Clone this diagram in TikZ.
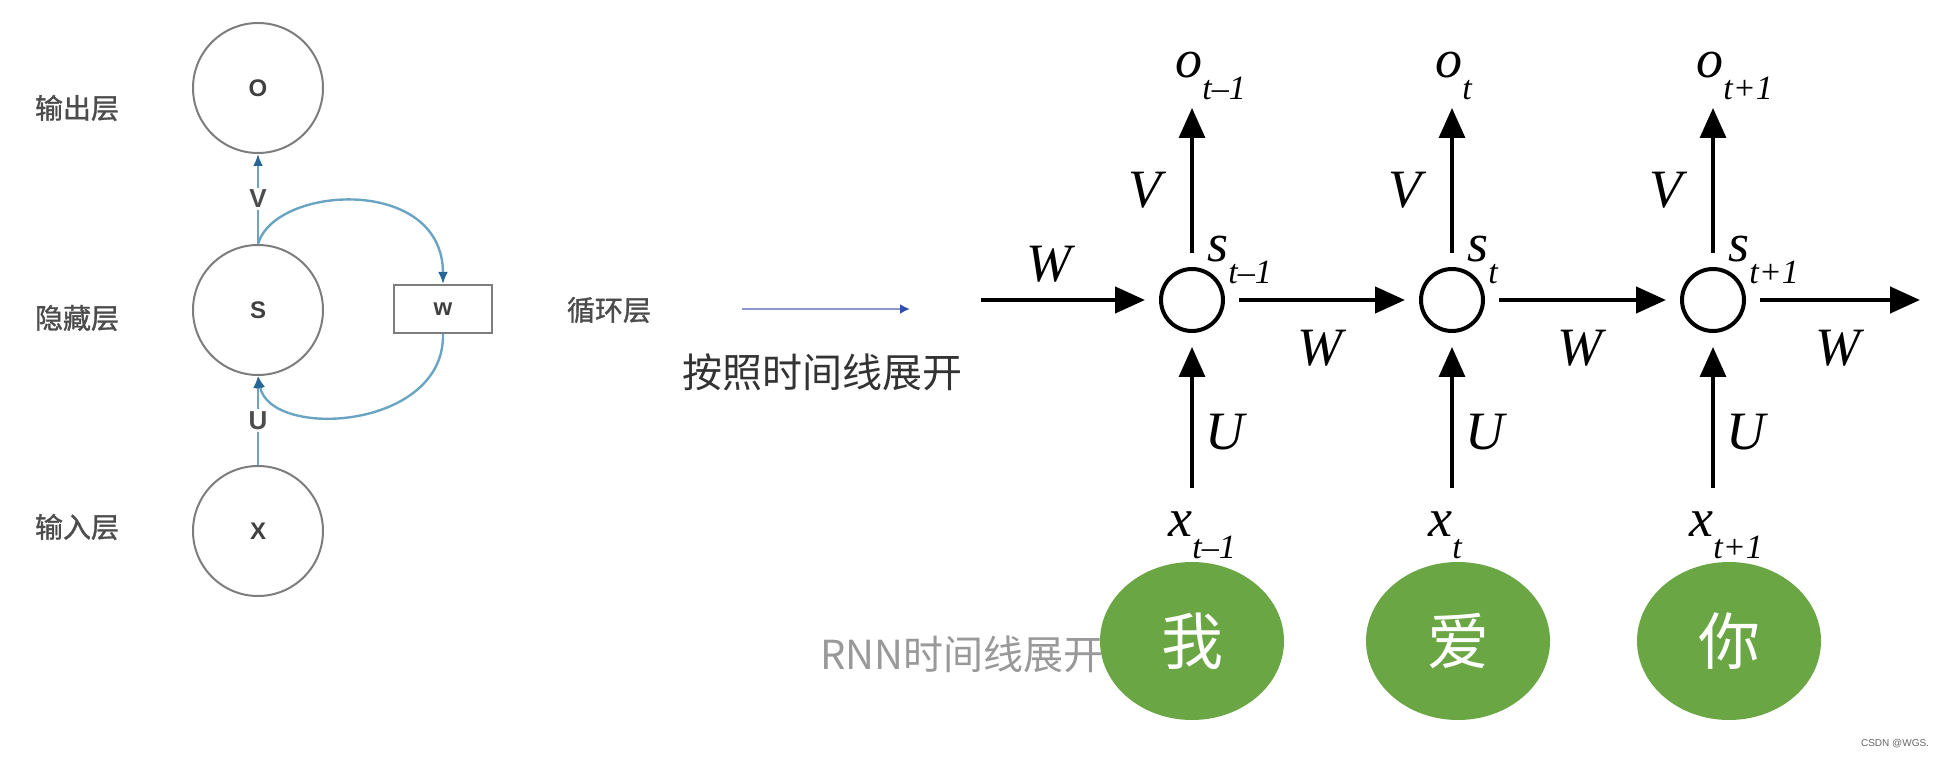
\documentclass[tikz,border=0pt]{standalone}
\usepackage{fontspec}
\setmainfont{Liberation Serif}
\setsansfont{Liberation Sans}
\newfontfamily\cjk{Noto Sans CJK SC}
\newfontfamily\cjkb[FakeBold=1.2]{Noto Sans CJK SC}
\usetikzlibrary{arrows.meta,shapes.geometric}
\definecolor{ring}{RGB}{125,125,125}
\definecolor{wire}{RGB}{105,165,195}
\definecolor{wiretip}{RGB}{40,100,150}
\definecolor{unfoldline}{RGB}{140,150,200}
\definecolor{unfoldtip}{RGB}{50,80,170}
\definecolor{leaf}{RGB}{106,166,68}
\newcommand{\tsub}[2]{\textit{#1}\raisebox{-11pt}{\fontsize{17pt}{17pt}\selectfont\textit{#2}}}

\begin{document}
\begin{tikzpicture}[x=0.5pt,y=-0.5pt,
 neuron/.style={circle,draw=ring,line width=1pt,minimum size=65pt,inner sep=0pt,font=\sffamily\bfseries\fontsize{12}{12}\selectfont,text=black!75},
 wbox/.style={draw=ring,line width=1pt,minimum width=49pt,minimum height=24pt,inner sep=0pt,font=\sffamily\bfseries\fontsize{12}{12}\selectfont,text=black!75},
 layerlab/.style={font=\cjkb\fontsize{14}{14}\selectfont,text=black!70},
 wt/.style={font=\sffamily\bfseries\fontsize{13}{13}\selectfont,text=black!70,fill=white,inner sep=1pt},
 flow/.style={draw=wire,line width=1.2pt,-{Latex[length=6pt,width=5pt,color=wiretip]}},
 unfold/.style={draw=unfoldline,line width=1pt,-{Latex[length=5pt,width=5pt,color=unfoldtip]}},
 cell/.style={circle,draw,line width=2pt,minimum size=31pt,inner sep=0pt,outer sep=8pt},
 sym/.style={font=\fontsize{27}{27}\selectfont,inner sep=0pt},
 fwd/.style={line width=2.2pt,-{Triangle[length=15pt,width=13pt]}},
 rise/.style={line width=1.6pt,-{Triangle[length=15pt,width=13pt]}},
 word/.style={ellipse,fill=leaf,minimum width=92pt,minimum height=79pt,inner sep=0pt,text=white,font=\cjk\fontsize{31}{31}\selectfont}]
\useasboundingbox (0,0) rectangle (1942,758);

% folded network
\node[neuron] (o) at (258,88) {O};
\node[neuron] (s) at (258,310) {S};
\node[neuron] (x) at (258,531) {X};
\node[wbox] (w) at (443,309) {w};
\node[layerlab] (lout) at (77,108) {输出层};
\node[layerlab] (lhid) at (77,318) {隐藏层};
\node[layerlab] (lin) at (77,527) {输入层};
\draw[flow] (s) -- node[wt]{V} (o);
\draw[flow] (x) -- node[wt]{U} (s);
\draw[flow] (s.north) .. controls (275,185) and (443,175) .. (w.north);
\draw[flow] (w.south) .. controls (445,430) and (270,440) .. (s.south);

% unfolding
\node[layerlab] (lloop) at (609,310) {循环层};
\coordinate (ua) at (742,309);
\coordinate (ub) at (910,309);
\draw[unfold] (ua) -- (ub);
\node[font=\cjk\fontsize{20}{20}\selectfont,text=black!80] (unf) at (822,372) {按照时间线展开};

% unrolled over time
\foreach \i/\x/\t in {1/1192/t–1,2/1452/t,3/1713/t+1} {
  \node[cell] (s\i) at (\x,300) {};
  \node[sym,anchor=base west] (sl\i) at (\x+15,262) {\tsub{s}{\t}};
  \coordinate (ot\i) at (\x,108);
  \coordinate (xb\i) at (\x,488);
  \draw[rise] (s\i) -- node[sym,pos=.43,xshift=-22pt]{\textit{V}} (ot\i);
  \draw[rise] (xb\i) -- node[sym,pos=.4,xshift=17pt]{\textit{U}} (s\i);
  \node[sym,anchor=base west] (o\i) at (\x-17,78) {\tsub{o}{\t}};
  \node[sym,anchor=base west] (x\i) at (\x-24,537) {\tsub{x}{\t}};
}
\coordinate (win) at (981,300);
\coordinate (wout) at (1920,300);
\draw[fwd] (win) -- node[sym,pos=.43,yshift=18pt]{\textit{W}} (s1);
\draw[fwd] (s1) -- node[sym,yshift=-24pt]{\textit{W}} (s2);
\draw[fwd] (s2) -- node[sym,yshift=-24pt]{\textit{W}} (s3);
\draw[fwd] (s3) -- node[sym,yshift=-24pt]{\textit{W}} (wout);

% words
\node[font=\cjk\fontsize{20}{20}\selectfont,text=black!40,anchor=west] (rnnlab) at (813,654) {RNN时间线展开};
\node[word] (wd1) at (1192,641) {我};
\node[word] (wd2) at (1458,641) {爱};
\node[word] (wd3) at (1729,641) {你};
\node[font=\sffamily\fontsize{5}{5}\selectfont,text=black!60] (mark) at (1895,744) {CSDN @WGS.};
\end{tikzpicture}
\end{document}
